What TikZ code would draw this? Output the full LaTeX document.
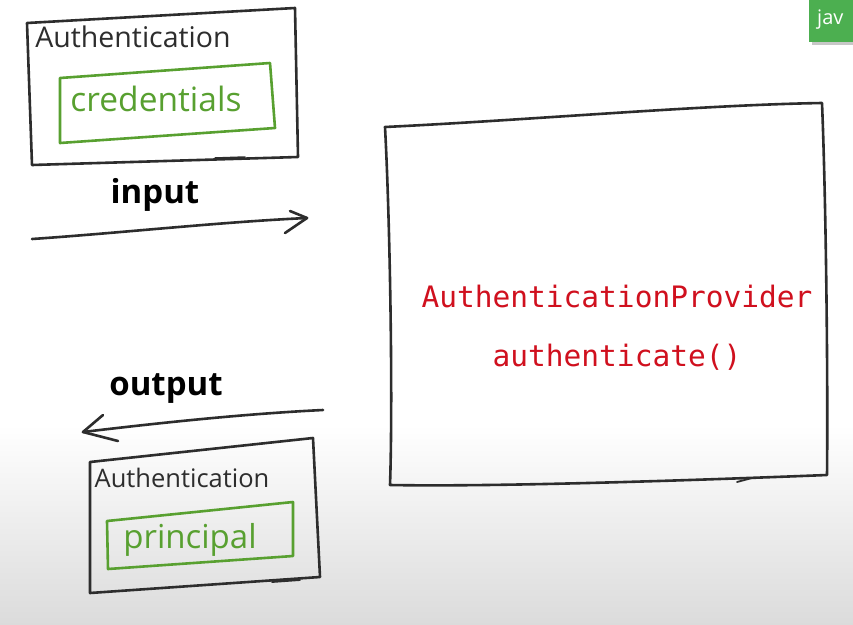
\documentclass[tikz,border=0pt]{standalone}
\usepackage{fontspec}
\setmainfont{Open Sans}
\newfontfamily\handfont{Open Sans}
\newfontfamily\codefont{DejaVu Sans Mono}
\definecolor{inkgray}{RGB}{45,45,45}
\definecolor{inkgreen}{RGB}{88,160,48}
\definecolor{codered}{RGB}{208,16,30}
\definecolor{taggreen}{RGB}{76,175,80}
\begin{document}
\begin{tikzpicture}[x=1pt,y=-1pt,
  inkbox/.style={draw=inkgray,line width=2.6pt,line cap=round,line join=round},
  greenbox/.style={draw=inkgreen,line width=2.6pt,line cap=round,line join=round},
  inkline/.style={draw=inkgray,line width=2.6pt,line cap=round,line join=round},
  handlabel/.style={font=\handfont\fontsize{28.5}{28.5}\selectfont,text=inkgray,inner sep=0pt,anchor=base},
  greenlabel/.style={font=\handfont\fontsize{33.5}{33.5}\selectfont,text=inkgreen,inner sep=0pt,anchor=base},
  boldlabel/.style={font=\bfseries\fontsize{33}{33}\selectfont,text=black,inner sep=0pt,anchor=base},
  codelabel/.style={font=\codefont\fontsize{29.5}{30}\selectfont,text=codered,inner sep=0pt,anchor=base}]
\useasboundingbox (0,0) rectangle (853,624);
\fill[white] (0,0) rectangle (853,624);
\shade[top color=white,bottom color=black!14] (0,425) rectangle (853,624);

% top-right tag
\fill[black!22] (812,3) rectangle (855,45);
\fill[taggreen] (809,0) rectangle (853,42);
\node[font=\fontsize{20}{20}\selectfont,text=white,inner sep=0pt,anchor=base west] (tag) at (817,24) {jav};

% input Authentication box
\coordinate (b1a) at (27,23);
\coordinate (b1b) at (295,8);
\coordinate (b1c) at (298,157);
\coordinate (b1d) at (32,165);
\draw[inkbox] (b1a) -- (b1b) -- (b1c) -- (b1d) -- cycle;
\draw[inkline,line width=1.5pt] (215,158) -- (245,157);
\node[handlabel] (auth1) at (133,47) {Authentication};
\draw[greenbox] (60,78) -- (270,63) -- (275,128) -- (60,143) -- cycle;
\node[greenlabel] (cred) at (156,111) {credentials};

% input arrow
\node[boldlabel] (input) at (155,203) {input};
\coordinate (inS) at (32,239);
\coordinate (inE) at (307,218);
\draw[inkline] (inS) .. controls (120,233) and (220,222) .. (inE);
\draw[inkline] (290,211) -- (inE) -- (285,233);

% provider box
\draw[inkbox] (385,127) .. controls (530,120) and (700,105) .. (822,103)
  .. controls (826,200) and (828,380) .. (827,475)
  .. controls (700,480) and (500,487) .. (390,485)
  .. controls (393,400) and (390,220) .. cycle;
\draw[inkline,line width=1.8pt] (737,482) -- (752,478);
\node[codelabel] (prov) at (617,307) {AuthenticationProvider};
\node[codelabel] (authm) at (617,366) {authenticate()};

% output arrow
\node[boldlabel] (output) at (166,395) {output};
\coordinate (outS) at (323,410);
\coordinate (outE) at (83,432);
\draw[inkline] (outS) .. controls (240,414) and (150,424) .. (outE);
\draw[inkline] (103,415) -- (outE) -- (118,441);

% output Authentication box
\draw[inkbox] (90,462) -- (313,438) -- (320,577) -- (90,593) -- cycle;
\draw[inkline,line width=1.8pt] (272,582) -- (300,580);
\node[handlabel,font=\handfont\fontsize{25.5}{25.5}\selectfont] (auth2) at (182,487) {Authentication};
\draw[greenbox] (107,521) -- (293,502) -- (293,556) -- (108,569) -- cycle;
\node[greenlabel,font=\handfont\fontsize{33}{33}\selectfont] (princ) at (190,548) {principal};
\end{tikzpicture}
\end{document}
